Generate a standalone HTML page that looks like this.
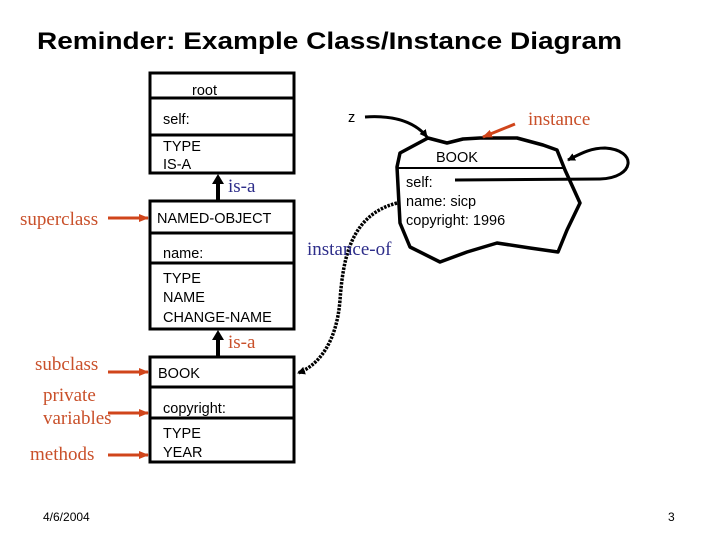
<!DOCTYPE html>
<html><head><meta charset="utf-8"><style>html,body{margin:0;padding:0;background:#fff}svg{display:block}</style></head><body>
<svg width="720" height="540" viewBox="0 0 720 540" xmlns="http://www.w3.org/2000/svg">
<defs>
<marker id="ab" markerWidth="8" markerHeight="8" refX="7" refY="4" orient="auto" markerUnits="userSpaceOnUse"><path d="M0,0 L8,4 L0,8 z" fill="#000"/></marker>
<marker id="ar" markerWidth="10" markerHeight="8" refX="9" refY="4" orient="auto" markerUnits="userSpaceOnUse"><path d="M0,0 L10,4 L0,8 z" fill="#d0451b"/></marker>
</defs>
<g font-family="Liberation Sans, Arial, sans-serif">
<text x="37" y="49" font-size="24" font-weight="bold" textLength="585" lengthAdjust="spacingAndGlyphs">Reminder: Example Class/Instance Diagram</text>

<g fill="none" stroke="#000" stroke-width="3">
<rect x="150" y="73" width="144" height="100"/>
<line x1="150" y1="98" x2="294" y2="98"/>
<line x1="150" y1="135" x2="294" y2="135"/>
<rect x="150" y="201" width="144" height="128"/>
<line x1="150" y1="233" x2="294" y2="233"/>
<line x1="150" y1="263" x2="294" y2="263"/>
<rect x="150" y="357" width="144" height="105"/>
<line x1="150" y1="387" x2="294" y2="387"/>
<line x1="150" y1="418" x2="294" y2="418"/>
<line x1="218" y1="201" x2="218" y2="182" stroke-width="4"/>
<line x1="218" y1="357" x2="218" y2="338" stroke-width="4"/>
</g>
<path d="M212,184 L218,174 L224,184z M212,340 L218,330 L224,340z" fill="#000"/>

<g font-size="14.5">
<text x="192" y="95">root</text>
<text x="163" y="124">self:</text>
<text x="163" y="151">TYPE</text>
<text x="163" y="169">IS-A</text>
<text x="157" y="223">NAMED-OBJECT</text>
<text x="163" y="258">name:</text>
<text x="163" y="283">TYPE</text>
<text x="163" y="302">NAME</text>
<text x="163" y="322">CHANGE-NAME</text>
<text x="158" y="378">BOOK</text>
<text x="163" y="413">copyright:</text>
<text x="163" y="438">TYPE</text>
<text x="163" y="457">YEAR</text>
<text x="348" y="122">z</text>
<text x="436" y="162">BOOK</text>
<text x="406" y="187">self:</text>
<text x="406" y="206">name: sicp</text>
<text x="406" y="225">copyright: 1996</text>
</g>

<path d="M400,153 L428,138 L447,143 L463,139 L480,138 L517,138 L543,145 L557,150 L565,170 L580,203 L567,230 L558,252 L530,248 L497,243 L467,252 L440,262 L410,247 L400,223 L397,167 Z" fill="none" stroke="#000" stroke-width="3.5" stroke-linejoin="round"/>
<line x1="398" y1="168" x2="565" y2="168" stroke="#000" stroke-width="2"/>
<path d="M455,180 L600,179 C635,178 638,150 605,148 C590,148 580,154 568,160" fill="none" stroke="#000" stroke-width="3" marker-end="url(#ab)"/>
<path d="M365,117 C395,115 415,122 427,137" fill="none" stroke="#000" stroke-width="3" marker-end="url(#ab)"/>
<path d="M397,203 C350,215 343,260 340,300 C337,340 320,365 298,373" fill="none" stroke="#000" stroke-width="3.5" stroke-dasharray="2.5,1.2" marker-end="url(#ab)"/>

<g stroke="#d0451b" stroke-width="3" fill="none">
<line x1="515" y1="124" x2="483" y2="137" marker-end="url(#ar)"/>
<line x1="108" y1="218" x2="148" y2="218" marker-end="url(#ar)"/>
<line x1="108" y1="372" x2="148" y2="372" marker-end="url(#ar)"/>
<line x1="108" y1="413" x2="148" y2="413" marker-end="url(#ar)"/>
<line x1="108" y1="455" x2="148" y2="455" marker-end="url(#ar)"/>
</g>
<g font-family="Liberation Serif, Times New Roman, serif" font-size="19" fill="#c9502a">
<text x="528" y="125">instance</text>
<text x="20" y="225">superclass</text>
<text x="35" y="370">subclass</text>
<text x="43" y="401">private</text>
<text x="43" y="424">variables</text>
<text x="30" y="460">methods</text>
<text x="228" y="348">is-a</text>
</g>
<g font-family="Liberation Serif, Times New Roman, serif" font-size="19" fill="#2e2e8a">
<text x="228" y="192">is-a</text>
<text x="307" y="255">instance-of</text>
</g>
<text x="43" y="521" font-size="12">4/6/2004</text>
<text x="668" y="521" font-size="12">3</text>
</g>
</svg>
</body></html>
